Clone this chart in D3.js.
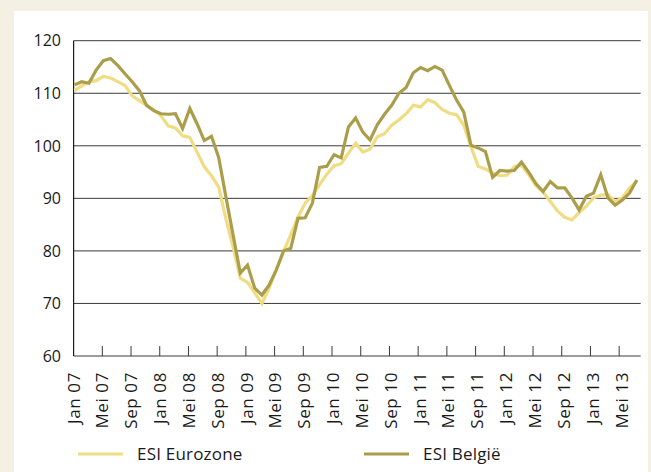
<!DOCTYPE html>
<html>
<head>
<meta charset="utf-8">
<script src="https://cdn.jsdelivr.net/npm/d3@7"></script>
<style>
  html, body { margin: 0; padding: 0; background: #f4f0e3; }
  svg { display: block; }
  text { font-family: "Open Sans", "Noto Sans", sans-serif; fill: #1a1a1a; }
</style>
</head>
<body>
<svg id="chart" width="651" height="472"></svg>
<script>
// ESI Eurozone vs ESI België, monthly Jan 2007 - Jul 2013
const months = d3.timeMonths(new Date(2007, 0, 1), new Date(2013, 7, 1));

const esiEurozone = [
  110.5, 111.4, 112.2, 112.4, 113.2, 112.9, 112.2, 111.5, 109.5, 108.6,
  107.7, 106.8, 105.7, 103.8, 103.4, 101.9, 101.6, 98.8, 96.0, 94.3,
  92.2, 86.1, 80.7, 74.8, 74.0, 72.0, 70.0, 72.9, 76.5, 79.9,
  83.1, 86.4, 89.1, 90.5, 92.6, 94.6, 96.2, 96.6, 98.6, 100.5,
  98.8, 99.4, 101.7, 102.3, 103.9, 104.9, 106.1, 107.7, 107.4, 108.8,
  108.2, 106.9, 106.2, 105.9, 103.9, 99.8, 96.1, 95.6, 94.8, 94.3,
  94.4, 96.0, 96.3, 94.5, 92.4, 91.2, 89.4, 87.6, 86.4, 85.9,
  87.3, 88.5, 90.1, 90.6, 90.7, 89.4, 90.1, 92.0, 93.2
];

const esiBelgie = [
  111.6, 112.2, 111.9, 114.4, 116.2, 116.6, 115.3, 113.7, 112.2, 110.5,
  107.7, 106.7, 106.1, 106.0, 106.1, 103.3, 107.1, 104.2, 101.0, 101.8,
  97.8, 90.3, 83.0, 75.8, 77.3, 72.9, 71.6, 73.5, 76.4, 80.0,
  80.5, 86.2, 86.3, 89.1, 95.9, 96.1, 98.3, 97.7, 103.6, 105.3,
  102.6, 101.1, 104.0, 106.0, 107.7, 110.0, 111.1, 113.9, 114.9, 114.3,
  115.1, 114.4, 111.5, 108.7, 106.4, 100.1, 99.6, 98.9, 94.0, 95.3,
  95.2, 95.3, 96.9, 95.0, 92.8, 91.3, 93.2, 92.0, 92.0, 90.1,
  87.8, 90.4, 91.0, 94.5, 90.1, 88.7, 89.7, 91.0, 93.5
];

const yTicks = [60, 70, 80, 90, 100, 110, 120];
const xTickLabels = [
  "Jan 07", "Mei 07", "Sep 07", "Jan 08", "Mei 08", "Sep 08", "Jan 09",
  "Mei 09", "Sep 09", "Jan 10", "Mei 10", "Sep 10", "Jan 11", "Mei 11",
  "Sep 11", "Jan 12", "Mei 12", "Sep 12", "Jan 13", "Mei 13"
];

const series = [
  { name: "ESI Eurozone", values: esiEurozone, color: "#f0dc82" },
  { name: "ESI België", values: esiBelgie, color: "#ab9e4b" }
];

const svg = d3.select("#chart");

// white panel over the beige frame
svg.append("rect")
  .attr("x", 14).attr("y", 11)
  .attr("width", 634).attr("height", 461)
  .attr("fill", "#fff");

const band = d3.scaleBand().domain(months).range([73.6, 640.7]);
const x = d3.scalePoint().domain(months).range([74.5, 636.8]);
const y = d3.scaleLinear().domain([60, 120]).range([356, 40.7]);

// gridlines
svg.append("g")
  .selectAll("line")
  .data(yTicks)
  .join("line")
  .attr("x1", band.range()[0]).attr("x2", band.range()[1])
  .attr("y1", d => y(d)).attr("y2", d => y(d))
  .attr("stroke", "#3a3a3a").attr("stroke-width", 1);

// y labels
svg.append("g")
  .selectAll("text")
  .data(yTicks)
  .join("text")
  .attr("x", 61).attr("y", d => y(d))
  .attr("dy", "0.36em")
  .attr("text-anchor", "end")
  .attr("font-size", 16)
  .text(d => d);

// left axis line
svg.append("line")
  .attr("x1", band.range()[0]).attr("x2", band.range()[0])
  .attr("y1", y(120)).attr("y2", y(60))
  .attr("stroke", "#1a1a1a").attr("stroke-width", 1.2);

// x ticks (inside, every 4 months)
const tickMonths = months.filter((m, i) => i % 4 === 0 && i > 0);
svg.append("g")
  .selectAll("line")
  .data(tickMonths)
  .join("line")
  .attr("x1", d => band(d)).attr("x2", d => band(d))
  .attr("y1", y(60)).attr("y2", y(60) - 10)
  .attr("stroke", "#3a3a3a").attr("stroke-width", 1);

// x labels
const labelMonths = months.filter((m, i) => i % 4 === 0);
svg.append("g")
  .selectAll("text")
  .data(labelMonths)
  .join("text")
  .attr("transform", d => `translate(${x(d) - 1},372) rotate(-90)`)
  .attr("dy", "0.36em")
  .attr("text-anchor", "end")
  .attr("font-size", 17)
  .attr("letter-spacing", 0.6)
  .text((d, i) => xTickLabels[i]);

// lines
const line = d3.line()
  .x((d, i) => x(months[i]))
  .y(d => y(d));

svg.append("g")
  .selectAll("path")
  .data(series)
  .join("path")
  .attr("d", d => line(d.values))
  .attr("fill", "none")
  .attr("stroke", d => d.color)
  .attr("stroke-width", 3.2)
  .attr("stroke-linejoin", "miter");

// legend
const legend = svg.append("g")
  .selectAll("g")
  .data(series)
  .join("g")
  .attr("transform", (d, i) => `translate(${i === 0 ? 78 : 364},454)`);

legend.append("line")
  .attr("x1", 0).attr("x2", 45)
  .attr("stroke", d => d.color)
  .attr("stroke-width", 3);

legend.append("text")
  .attr("x", 59)
  .attr("dy", "0.36em")
  .attr("font-size", 17)
  .attr("letter-spacing", 0.2)
  .text(d => d.name);
</script>
</body>
</html>
